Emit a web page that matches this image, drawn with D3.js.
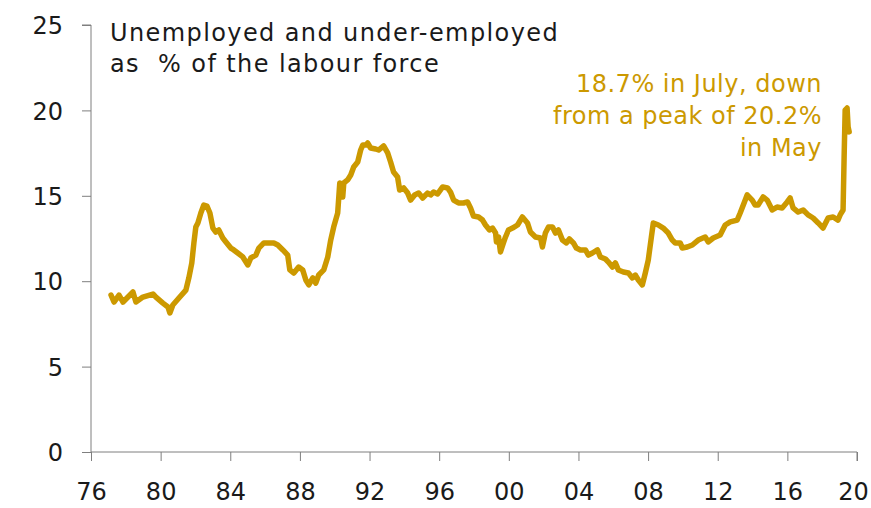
<!DOCTYPE html>
<html>
<head>
<meta charset="utf-8">
<script src="https://cdn.jsdelivr.net/npm/d3@7"></script>
<style>
  html, body { margin: 0; padding: 0; background: #fff; }
  svg { display: block; }
  text { font-family: "DejaVu Sans", sans-serif; }
</style>
</head>
<body>
<svg id="chart" width="871" height="508"></svg>
<script>
// ---- data (decimal year on the chart's axis, % of labour force)
const years = [
  1977.15,1977.32,1977.61,1977.84,1978.41,1978.58,1978.98,1979.56,1979.73,1980.13,
  1980.42,1980.53,1980.70,1981.05,1981.45,1981.62,1981.79,1981.91,1982.02,1982.14,
  1982.31,1982.48,1982.66,1982.83,1983.00,1983.17,1983.34,1983.57,1983.75,1984.03,
  1984.20,1984.43,1984.72,1985.01,1985.18,1985.47,1985.64,1985.93,1986.21,1986.50,
  1986.73,1987.02,1987.30,1987.42,1987.65,1987.93,1988.16,1988.34,1988.51,1988.74,
  1988.91,1989.08,1989.37,1989.60,1989.77,1989.94,1990.17,1990.29,1990.46,1990.52,
  1990.74,1990.92,1991.09,1991.32,1991.49,1991.61,1991.78,1991.89,1992.06,1992.35,
  1992.52,1992.81,1993.04,1993.21,1993.38,1993.61,1993.73,1993.96,1994.19,1994.36,
  1994.59,1994.82,1995.05,1995.33,1995.51,1995.68,1995.91,1996.20,1996.48,1996.65,
  1996.83,1997.11,1997.40,1997.63,1997.80,1997.97,1998.26,1998.49,1998.66,1998.89,
  1999.06,1999.24,1999.29,1999.41,1999.52,1999.69,1999.81,1999.98,2000.21,2000.50,
  2000.78,2001.07,2001.24,2001.53,2001.82,2001.93,2002.10,2002.28,2002.51,2002.68,
  2002.85,2003.08,2003.31,2003.48,2003.71,2003.88,2004.11,2004.40,2004.57,2004.80,
  2005.09,2005.26,2005.55,2005.72,2005.95,2006.12,2006.29,2006.58,2006.87,2007.10,
  2007.27,2007.44,2007.67,2007.84,2008.01,2008.19,2008.30,2008.59,2008.87,2009.16,
  2009.39,2009.56,2009.85,2009.96,2010.25,2010.54,2010.88,2011.28,2011.46,2011.74,
  2012.14,2012.43,2012.72,2013.12,2013.29,2013.58,2013.69,2013.98,2014.15,2014.32,
  2014.61,2014.84,2015.13,2015.41,2015.70,2015.99,2016.16,2016.33,2016.62,2016.91,
  2017.19,2017.48,2017.77,2018.05,2018.34,2018.63,2018.91,2019.03,2019.20,2019.26,
  2019.32,2019.43,2019.49,2019.55
];
const underutilisation = [
  9.19,8.78,9.19,8.78,9.37,8.78,9.07,9.25,9.07,8.72,
  8.49,8.14,8.61,9.02,9.48,10.19,11.07,12.24,13.17,13.41,
  13.99,14.46,14.40,13.99,13.11,12.88,13.00,12.53,12.30,11.94,
  11.83,11.65,11.42,10.95,11.36,11.53,11.94,12.24,12.24,12.24,
  12.12,11.83,11.53,10.66,10.48,10.83,10.66,10.07,9.78,10.19,
  9.89,10.36,10.66,11.42,12.41,13.17,13.99,15.75,14.93,15.75,
  15.93,16.22,16.69,16.98,17.68,17.97,17.97,18.09,17.80,17.74,
  17.68,17.92,17.51,16.98,16.39,16.10,15.34,15.46,15.16,14.75,
  15.05,15.16,14.87,15.16,15.05,15.22,15.11,15.52,15.46,15.22,
  14.75,14.58,14.58,14.64,14.29,13.82,13.76,13.58,13.29,13.00,
  13.11,12.82,12.30,12.59,11.71,12.24,12.59,13.00,13.11,13.29,
  13.76,13.41,12.88,12.59,12.53,12.00,12.82,13.17,13.17,12.82,
  13.00,12.41,12.24,12.47,12.24,11.94,11.83,11.83,11.53,11.65,
  11.83,11.42,11.30,11.12,10.83,11.07,10.66,10.54,10.48,10.19,
  10.36,10.07,9.78,10.48,11.24,12.59,13.41,13.29,13.11,12.82,
  12.41,12.24,12.24,11.94,12.00,12.12,12.41,12.59,12.30,12.53,
  12.70,13.29,13.47,13.58,13.99,14.75,15.05,14.75,14.46,14.46,
  14.93,14.75,14.17,14.34,14.29,14.64,14.87,14.29,14.05,14.17,
  13.88,13.70,13.41,13.11,13.70,13.76,13.58,13.88,14.17,17.27,
  20.02,20.14,19.03,18.74
];
const xTickYears = [1976,1980,1984,1988,1992,1996,2000,2004,2008,2012,2016,2020];
const yTicks = [0,5,10,15,20,25];
const titleLines = ["Unemployed and under-employed", "as  % of the labour force"];
const noteLines = ["18.7% in July, down", "from a peak of 20.2%", "in May"];

// ---- drawing
const svg = d3.select("#chart");
const gold = "#CC9900";
const axisColor = "#7f7f7f";

const x = d3.scaleLinear().domain([1976, 2020]).range([91, 857]);
const y = d3.scaleLinear().domain([0, 25]).range([452, 25]);

const data = years.map((yr, i) => ({ yr, v: underutilisation[i] }));

// y axis
const yAxis = d3.axisLeft(y).tickValues(yTicks).tickSize(9).tickPadding(19)
  .tickFormat(d3.format("d"));
const gy = svg.append("g").attr("transform", `translate(${x(1976)},0)`).call(yAxis);
gy.select(".domain").attr("stroke", axisColor).attr("d", `M-9,${y(25)}H0V${y(0)}`);
gy.selectAll(".tick line").attr("stroke", axisColor);
gy.selectAll(".tick text").attr("fill", "#1a1a1a").style("font-size", "24px")
  .attr("dy", "0.36em");

// x axis
const xAxis = d3.axisBottom(x).tickValues(xTickYears).tickSize(9).tickPadding(22)
  .tickFormat(d => String(d % 100).padStart(2, "0"));
const gx = svg.append("g").attr("transform", `translate(0,${y(0)})`).call(xAxis);
gx.select(".domain").attr("stroke", axisColor).attr("d", `M${x(1976)},0H${x(2020)}V9`);
gx.selectAll(".tick line").attr("stroke", axisColor);
gx.selectAll(".tick text").attr("fill", "#1a1a1a").style("font-size", "24px")
  .attr("dx", d => d === 2020 ? -4 : 0);

// line
const line = d3.line().x(d => x(d.yr)).y(d => y(d.v)).curve(d3.curveLinear);
svg.append("path").datum(data)
  .attr("d", line)
  .attr("fill", "none")
  .attr("stroke", gold)
  .attr("stroke-width", 5.5)
  .attr("stroke-linejoin", "round")
  .attr("stroke-linecap", "round");

// title
svg.append("g").selectAll("text").data(titleLines).join("text")
  .attr("x", 110).attr("y", (d, i) => 41 + i * 31)
  .attr("fill", "#1a1a1a")
  .style("font-size", "24px").style("letter-spacing", "1.4px").style("white-space", "pre")
  .text(d => d);

// annotation
svg.append("g").selectAll("text").data(noteLines).join("text")
  .attr("x", 822).attr("y", (d, i) => 92 + i * 32)
  .attr("text-anchor", "end")
  .attr("fill", gold)
  .style("font-size", "24px").style("letter-spacing", "0.5px")
  .text(d => d);
</script>
</body>
</html>
